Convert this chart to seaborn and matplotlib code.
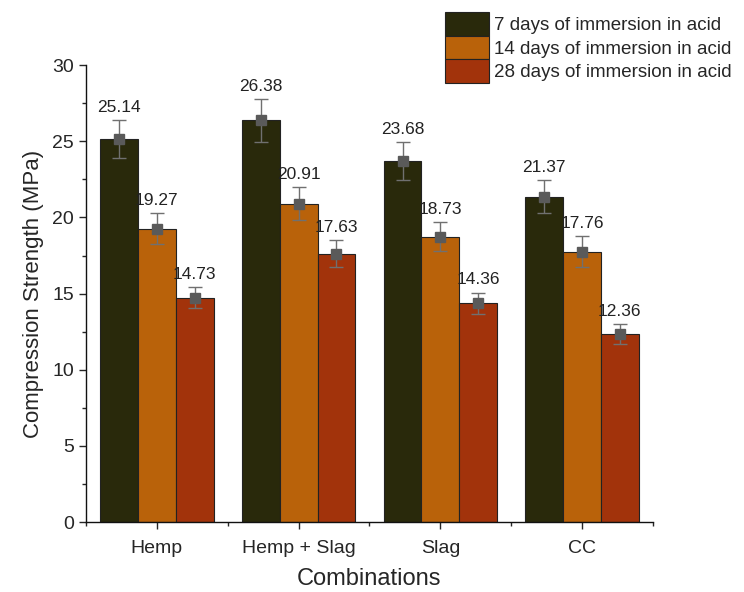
import numpy as np
import pandas as pd
import matplotlib
matplotlib.use("Agg")
import matplotlib.pyplot as plt
import seaborn as sns
from matplotlib.patches import Patch
from matplotlib.ticker import MultipleLocator, FixedLocator

combinations = ["Hemp", "Hemp + Slag", "Slag", "CC"]
series = ["7 days of immersion in acid", "14 days of immersion in acid", "28 days of immersion in acid"]
days_7 = [25.14, 26.38, 23.68, 21.37]
days_14 = [19.27, 20.91, 18.73, 17.76]
days_28 = [14.73, 17.63, 14.36, 12.36]
err_7 = [1.25, 1.4, 1.25, 1.1]
err_14 = [1.0, 1.1, 0.95, 1.0]
err_28 = [0.7, 0.9, 0.7, 0.65]
colors = ["#29290b", "#b9620a", "#a2330b"]

rows = []
for s, vals, errs in zip(series, [days_7, days_14, days_28], [err_7, err_14, err_28]):
    for c, v, e in zip(combinations, vals, errs):
        rows.append({"combination": c, "series": s, "strength": v, "err": e})
df = pd.DataFrame(rows)

sns.set_style("ticks")
plt.rcParams["font.family"] = ["Liberation Sans", "DejaVu Sans"]

fig = plt.figure(figsize=(7.44, 5.92), dpi=100)
ax = fig.add_axes([0.1156, 0.118, 0.762, 0.772])

sns.barplot(data=df, x="combination", y="strength", hue="series", hue_order=series,
            order=combinations, palette=colors, width=0.8, errorbar=None, saturation=1,
            edgecolor="#222222", linewidth=0.8, ax=ax, legend=False)

# error bars and value labels on each bar
for cont, s in zip(ax.containers, series):
    sub = df[df["series"] == s].set_index("combination").loc[combinations]
    xs = [p.get_x() + p.get_width() / 2 for p in cont.patches]
    ax.errorbar(xs, sub["strength"], yerr=sub["err"], fmt="s", color="#5a5a5a",
                ecolor="#707070", elinewidth=1.0, capsize=5, capthick=1.0, markersize=7)
    for x, v, e in zip(xs, sub["strength"], sub["err"]):
        ax.text(x, v + e + 0.35, f"{v:.2f}", ha="center", va="bottom", fontsize=12.5, color="#222222")

ax.set_ylim(0, 30)
ax.set_xlim(-0.5, 3.5)
ax.yaxis.set_major_locator(MultipleLocator(5))
ax.yaxis.set_minor_locator(MultipleLocator(2.5))
ax.xaxis.set_minor_locator(FixedLocator([-0.5, 0.5, 1.5, 2.5, 3.5]))
ax.tick_params(axis="both", which="major", labelsize=14, length=5, width=1, direction="out")
ax.tick_params(axis="x", which="major", pad=8)
ax.tick_params(axis="both", which="minor", length=3, width=1, direction="out")
ax.set_xlabel("Combinations", fontsize=17, labelpad=8)
ax.set_ylabel("Compression Strength (MPa)", fontsize=16, labelpad=6)
sns.despine(ax=ax)
for sp in ["left", "bottom"]:
    ax.spines[sp].set_linewidth(1.0)
    ax.spines[sp].set_color("#111111")

handles = [Patch(facecolor=c, edgecolor="#222222", linewidth=0.8) for c in colors]
fig.legend(handles, series, loc="upper right", bbox_to_anchor=(1.0, 1.0), frameon=False,
           fontsize=13.5, handlelength=2.3, handleheight=1.55, labelspacing=0.0,
           handletextpad=0.3, borderaxespad=0.25)

fig.savefig("out.png", dpi=100)
